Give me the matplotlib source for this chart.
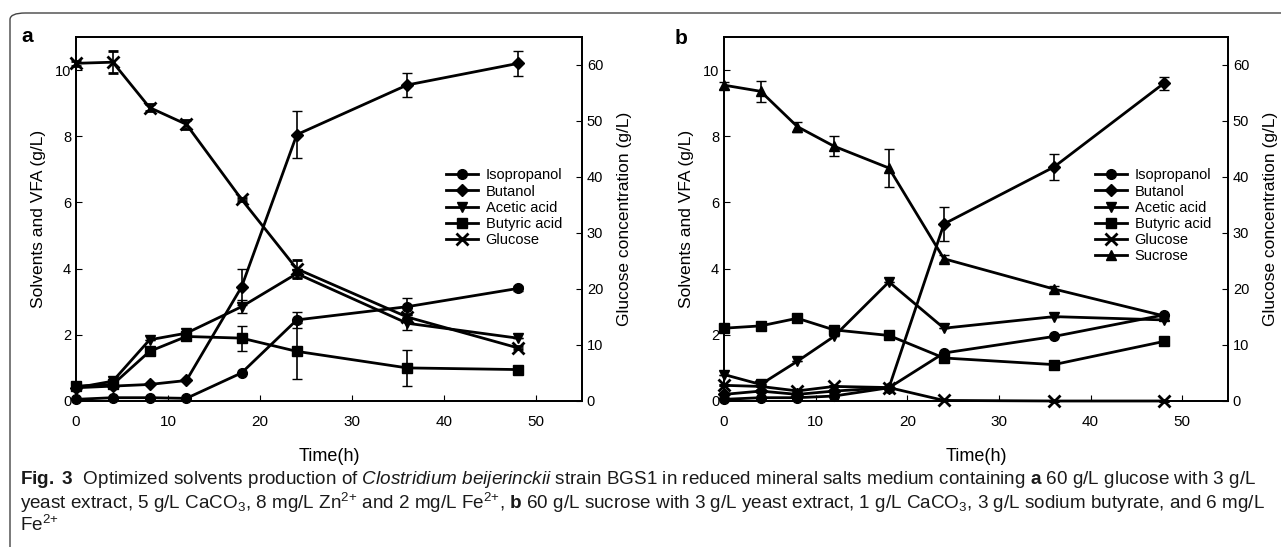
import numpy as np
import matplotlib
matplotlib.use("Agg")
import matplotlib.pyplot as plt
from matplotlib.lines import Line2D
from matplotlib.patches import FancyBboxPatch

plt.rcParams["font.family"] = ["Liberation Sans", "DejaVu Sans"]
plt.rcParams["mathtext.fontset"] = "custom"
plt.rcParams["mathtext.rm"] = "Liberation Sans"
plt.rcParams["mathtext.it"] = "Liberation Sans:italic"
plt.rcParams["mathtext.bf"] = "Liberation Sans:bold"

#### time points (h)
t = [0, 4, 8, 12, 18, 24, 36, 48]

#### panel a (g/L), glucose on right axis
iso_a = [0.05, 0.1, 0.1, 0.08, 0.85, 2.45, 2.85, 3.4]
iso_a_err = [0, 0, 0, 0, 0, 0.25, 0.25, 0.08]
but_a = [0.4, 0.45, 0.5, 0.62, 3.45, 8.05, 9.55, 10.2]
but_a_err = [0, 0, 0, 0, 0.55, 0.7, 0.35, 0.38]
ace_a = [0.4, 0.6, 1.85, 2.05, 2.85, 3.85, 2.35, 1.9]
ace_a_err = [0, 0.05, 0, 0, 0.2, 0.12, 0.2, 0]
buty_a = [0.45, 0.5, 1.5, 1.95, 1.9, 1.5, 1.0, 0.95]
buty_a_err = [0, 0, 0, 0, 0.38, 0.85, 0.55, 0]
glu_a = [60.3, 60.5, 52.4, 49.4, 36.0, 23.6, 15.0, 9.5]
glu_a_err = [0.5, 2.0, 0.6, 0.8, 0.3, 1.6, 0.5, 0.3]

#### panel b, glucose + sucrose on right axis
iso_b = [0.05, 0.1, 0.1, 0.15, 0.4, 1.45, 1.95, 2.6]
iso_b_err = [0, 0, 0, 0, 0, 0, 0, 0]
but_b = [0.2, 0.3, 0.2, 0.3, 0.4, 5.35, 7.07, 9.6]
but_b_err = [0, 0, 0, 0, 0, 0.5, 0.38, 0.2]
ace_b = [0.8, 0.5, 1.2, 1.95, 3.6, 2.2, 2.55, 2.45]
ace_b_err = [0, 0, 0, 0, 0, 0, 0, 0]
buty_b = [2.2, 2.27, 2.5, 2.15, 1.98, 1.3, 1.1, 1.8]
buty_b_err = [0, 0, 0, 0, 0, 0, 0, 0]
glu_b = [2.8, 2.6, 1.8, 2.6, 2.4, 0.1, 0.0, 0.0]
glu_b_err = [0, 0, 0, 0, 0, 0, 0, 0]
suc_b = [56.4, 55.3, 49.0, 45.5, 41.6, 25.4, 20.0, 15.2]
suc_b_err = [0.6, 1.9, 0.9, 1.8, 3.4, 0.6, 0.5, 0.4]

labels_a = ["Isopropanol", "Butanol", "Acetic acid", "Butyric acid", "Glucose"]
labels_b = labels_a + ["Sucrose"]
markers = {"Isopropanol": ("o", 7), "Butanol": ("D", 6), "Acetic acid": ("v", 7),
           "Butyric acid": ("s", 6.5), "Glucose": ("x", 8), "Sucrose": ("^", 7)}


def draw(ax, y, err, name):
    m, ms = markers[name]
    ax.errorbar(t, y, yerr=err, color="black", lw=2, marker=m, ms=ms,
                mew=2 if m == "x" else 1, capsize=3.5, elinewidth=1.2,
                capthick=1.2, clip_on=False, zorder=3)


def setup(ax, ax2):
    ax.set_xlim(0, 55)
    ax.set_ylim(0, 11)
    ax2.set_ylim(0, 65)
    ax.set_xticks([0, 10, 20, 30, 40, 50])
    ax.set_yticks([0, 2, 4, 6, 8, 10])
    ax2.set_yticks([0, 10, 20, 30, 40, 50, 60])
    ax.tick_params(axis="x", direction="in", length=4, pad=10, labelsize=11)
    ax.tick_params(axis="y", direction="in", length=4, labelsize=10.5)
    ax2.tick_params(axis="y", direction="in", length=4, labelsize=10.5)
    for s in list(ax.spines.values()) + list(ax2.spines.values()):
        s.set_linewidth(1.3)
    ax.set_xlabel("Time(h)", fontsize=13, labelpad=14)
    ax.set_ylabel("Solvents and VFA (g/L)", fontsize=12.5, labelpad=6)
    ax2.set_ylabel("Glucose concentration (g/L)", fontsize=12.5, labelpad=10)


def legend(ax, names, anchor):
    handles = []
    for n in names:
        m, ms = markers[n]
        handles.append(Line2D([], [], color="black", lw=2, marker=m, ms=ms,
                              mew=2 if m == "x" else 1))
    ax.legend(handles, names, loc="upper left", bbox_to_anchor=anchor,
              frameon=False, fontsize=10.5, handlelength=2.2,
              labelspacing=0.15, handletextpad=0.5, borderaxespad=0)


fig = plt.figure(figsize=(12.81, 5.47), dpi=100)

frame = FancyBboxPatch((10 / 1281, -0.1), 1.2, 1.1 - 13 / 547,
                       boxstyle="round,pad=0,rounding_size=0.012",
                       transform=fig.transFigure, fill=False, lw=1, ec="#444444")
fig.patches.append(frame)

axa = fig.add_axes([76 / 1281, 1 - 401 / 547, 506 / 1281, 364 / 547])
axa2 = axa.twinx()
draw(axa, iso_a, iso_a_err, "Isopropanol")
draw(axa, but_a, but_a_err, "Butanol")
draw(axa, ace_a, ace_a_err, "Acetic acid")
draw(axa, buty_a, buty_a_err, "Butyric acid")
draw(axa2, glu_a, glu_a_err, "Glucose")
setup(axa, axa2)
legend(axa2, labels_a, (0.72, 0.655))

axb = fig.add_axes([724 / 1281, 1 - 401 / 547, 504 / 1281, 364 / 547])
axb2 = axb.twinx()
draw(axb, iso_b, iso_b_err, "Isopropanol")
draw(axb, but_b, but_b_err, "Butanol")
draw(axb, ace_b, ace_b_err, "Acetic acid")
draw(axb, buty_b, buty_b_err, "Butyric acid")
draw(axb2, glu_b, glu_b_err, "Glucose")
draw(axb2, suc_b, suc_b_err, "Sucrose")
setup(axb, axb2)
legend(axb2, labels_b, (0.725, 0.655))

fig.text(21 / 1281, 1 - 36 / 547, "a", fontsize=15, fontweight="bold", va="center")
fig.text(675 / 1281, 1 - 38 / 547, "b", fontsize=15, fontweight="bold", va="center")

cap1 = (r"$\mathbf{Fig.\ 3}$  Optimized solvents production of "
        r"$\mathit{Clostridium\ beijerinckii}$ strain BGS1 in reduced mineral salts "
        r"medium containing $\mathbf{a}$ 60 g/L glucose with 3 g/L")
cap2 = (r"yeast extract, 5 g/L CaCO$_3$, 8 mg/L Zn$^{2{+}}$ and 2 mg/L Fe$^{2{+}}$, "
        r"$\mathbf{b}$ 60 g/L sucrose with 3 g/L yeast extract, 1 g/L CaCO$_3$, "
        r"3 g/L sodium butyrate, and 6 mg/L")
cap3 = r"Fe$^{2{+}}$"
for s, y in [(cap1, 480), (cap2, 503), (cap3, 525)]:
    fig.text(20 / 1281, 1 - y / 547, s, fontsize=13.6, va="center", color="#1a1a1a")

fig.savefig("out.png", dpi=100)
